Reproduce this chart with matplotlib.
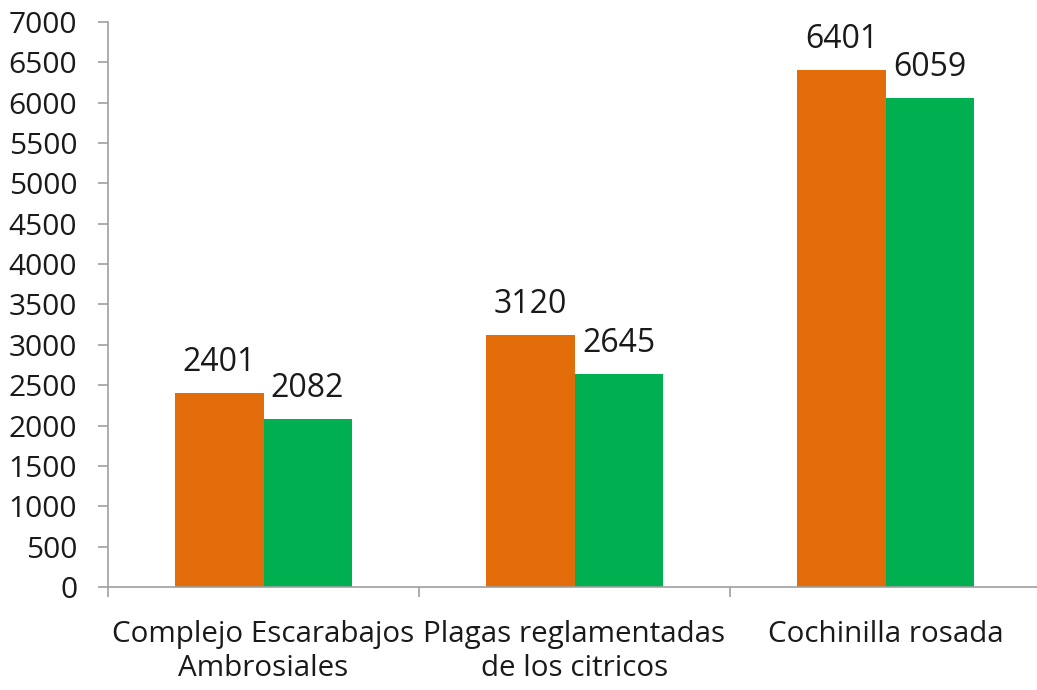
import matplotlib
matplotlib.use("Agg")
import matplotlib.pyplot as plt
import numpy as np

categories = ["Complejo Escarabajos\nAmbrosiales", "Plagas reglamentadas\nde los citricos", "Cochinilla rosada"]
series_a = [2401, 3120, 6401]
series_b = [2082, 2645, 6059]
yticks = list(range(0, 7001, 500))

plt.rcParams['font.family'] = ['Open Sans', 'DejaVu Sans']

fig = plt.figure(figsize=(10.37, 6.9), dpi=100)
ax = fig.add_axes([108/1037, 103/690, 933/1037, 565/690])

x = np.arange(len(categories))
w = 0.283
b1 = ax.bar(x - w/2, series_a, width=w, color="#E36C0A", zorder=2)
b2 = ax.bar(x + w/2, series_b, width=w, color="#00B050", zorder=2)

for bars, vals in ((b1, series_a), (b2, series_b)):
    for rect, v in zip(bars, vals):
        ax.annotate(str(v), (rect.get_x() + rect.get_width()/2, v),
                    xytext=(0, 10), textcoords="offset points",
                    ha="center", va="bottom", fontsize=23, color="#1a1a1a")

ax.set_xlim(-0.5, 2.5)
ax.set_ylim(0, 7000)
ax.set_yticks(yticks)
ax.set_yticklabels([str(t) for t in yticks], fontsize=21.5, color="#1a1a1a")
ax.set_xticks(x)
ax.set_xticklabels(categories, fontsize=21.3, color="#1a1a1a", linespacing=1.2)
ax.set_xticks([-0.5, 0.5, 1.5, 2.5], minor=True)
ax.tick_params(axis="x", which="major", length=0, pad=24)
ax.tick_params(axis="x", which="minor", length=7.2, color="#A0A0A0", width=1.2, direction="out")
ax.tick_params(axis="y", length=7.2, color="#A0A0A0", width=1.2, pad=15, direction="out")

for s in ("top", "right"):
    ax.spines[s].set_visible(False)
for s in ("left", "bottom"):
    ax.spines[s].set_color("#A0A0A0")
    ax.spines[s].set_linewidth(1.2)

fig.savefig("out.png", dpi=100)
